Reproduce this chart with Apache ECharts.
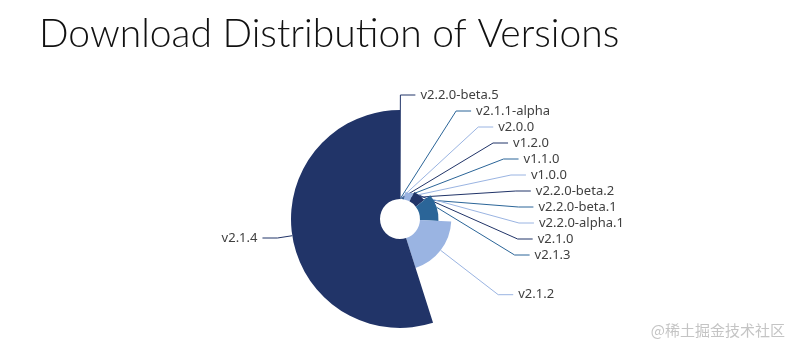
<!DOCTYPE html>
<html>
<head>
<meta charset="utf-8">
<title>Download Distribution of Versions</title>
<script src="https://cdn.jsdelivr.net/npm/echarts@6/dist/echarts.min.js"></script>
<style>
  html, body { margin: 0; padding: 0; background: #ffffff; }
  #main { width: 799px; height: 353px; }
</style>
</head>
<body>
<div id="main"></div>
<script>
// versions in drawing order (clockwise from 12 o'clock)
var versions = ['v2.2.0-beta.5', 'v2.1.1-alpha', 'v2.0.0', 'v1.2.0', 'v1.1.0', 'v1.0.0',
  'v2.2.0-beta.2', 'v2.2.0-beta.1', 'v2.2.0-alpha.1', 'v2.1.0', 'v2.1.3', 'v2.1.2', 'v2.1.4'];
// downloads
var downloads = [1, 2, 2, 3, 4, 5, 6, 8, 47, 66, 114, 193, 549];

var palette = ['#213468', '#2b6598', '#9ab4e2'];

var chart = echarts.init(document.getElementById('main'));

var data = [];
for (var i = 0; i < versions.length; i++) {
  data.push({ name: versions[i], value: downloads[i] });
}

var option = {
  backgroundColor: '#ffffff',
  color: palette,
  title: {
    text: 'Download Distribution of Versions',
    left: 34,
    top: 10,
    textStyle: {
      fontFamily: 'Lato',
      fontWeight: 300,
      fontSize: 39,
      color: '#111111'
    }
  },
  graphic: [{
    type: 'text',
    right: 14,
    bottom: 15,
    style: {
      text: '@稀土掘金技术社区',
      fontFamily: 'Noto Sans CJK SC',
      fontSize: 15,
      fill: '#c4c4c4'
    }
  }],
  series: [{
    name: 'Downloads',
    type: 'pie',
    roseType: 'radius',
    center: [400, 219],
    radius: [20, 109],
    startAngle: 90,
    clockwise: true,
    label: {
      color: '#404040',
      fontFamily: 'Noto Sans',
      fontSize: 13,
      lineHeight: 14
    },
    labelLine: {
      length: 15,
      length2: 15,
      lineStyle: { width: 1 }
    },
    data: data
  }]
};

chart.setOption(option);
</script>
</body>
</html>
